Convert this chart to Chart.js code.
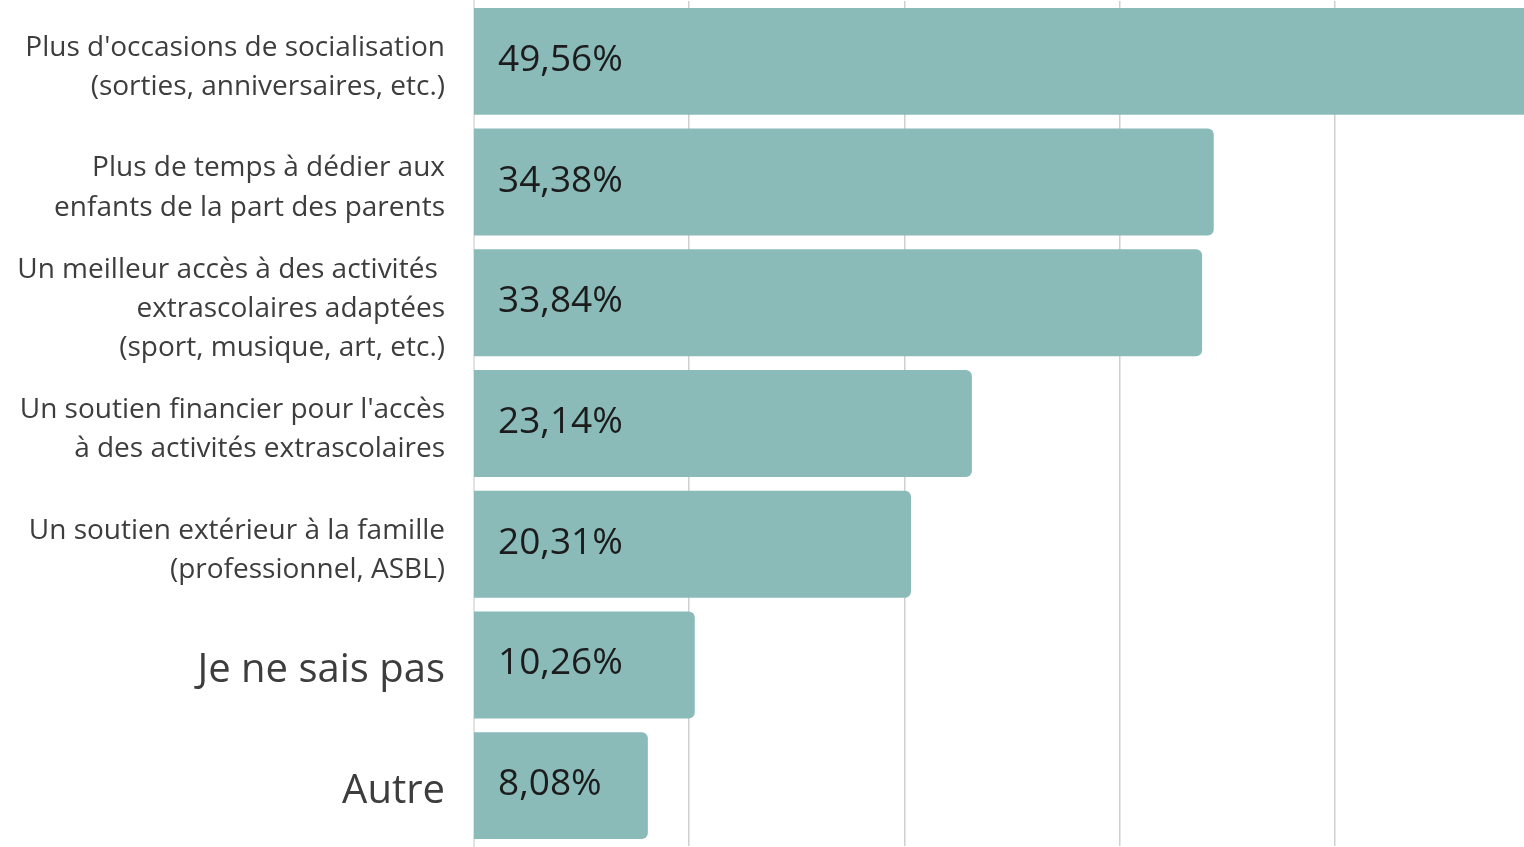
<!DOCTYPE html>
<html>
<head>
<meta charset="utf-8">
<script src="https://cdn.jsdelivr.net/npm/chart.js@4"></script>
<style>
  html, body { margin: 0; padding: 0; background: #fff; overflow: hidden; }
  #wrap { width: 1524px; height: 847px; }
</style>
</head>
<body>
<div id="wrap"><canvas id="besoins"></canvas></div>
<script>
const categories = [
  ["Plus d'occasions de socialisation", "(sorties, anniversaires, etc.)"],
  ["Plus de temps à dédier aux", "enfants de la part des parents"],
  ["Un meilleur accès à des activités ", "extrascolaires adaptées", "(sport, musique, art, etc.)"],
  ["Un soutien financier pour l'accès", "à des activités extrascolaires"],
  ["Un soutien extérieur à la famille", "(professionnel, ASBL)"],
  "Je ne sais pas",
  "Autre",
];
const values = [49.56, 34.38, 33.84, 23.14, 20.31, 10.26, 8.08];
const gridSteps = [10, 20, 30, 40];

const valueLabels = {
  id: "valueLabels",
  afterDatasetsDraw(chart) {
    const ctx = chart.ctx;
    const meta = chart.getDatasetMeta(0);
    ctx.save();
    ctx.font = "37px 'Open Sans'";
    ctx.fillStyle = "#1c1c1c";
    ctx.textAlign = "left";
    ctx.textBaseline = "middle";
    meta.data.forEach((bar, i) => {
      const txt = values[i].toFixed(2).replace(".", ",") + "%";
      ctx.fillText(txt, bar.base + 24, bar.y - 1);
    });
    ctx.restore();
  },
};

const besoinsCtx = document.getElementById("besoins").getContext("2d");
const besoinsChart = new Chart(besoinsCtx, {
  type: "bar",
  plugins: [valueLabels],
  options: {
    indexAxis: "y",
    responsive: true,
    maintainAspectRatio: false,
    animation: false,
    layout: { padding: { top: 1, bottom: 1, left: 0, right: 0 } },
    plugins: {
      legend: { display: false },
      tooltip: { enabled: false },
    },
    scales: {
      x: {
        min: 0,
        max: 48.8,
        afterBuildTicks: (scale) => {
          scale.ticks = gridSteps.map((v) => ({ value: v }));
        },
        afterFit: (scale) => {
          scale.height = 0;
          scale.paddingLeft = 0;
          scale.paddingRight = 0;
        },
        ticks: { display: false },
        grid: { color: "#cfcfcf", lineWidth: 1.5, drawTicks: false },
        border: { display: false },
      },
      y: {
        afterFit: (scale) => {
          scale.width = 474;
          scale.paddingTop = 0;
          scale.paddingBottom = 0;
        },
        grid: { display: false },
        border: { display: true, color: "#e2e2e2", width: 2 },
        ticks: {
          padding: 21,
          labelOffset: 6,
          color: "#3d3d3d",
          font: (c) => ({
            family: "'Open Sans'",
            size: c.index >= 5 ? 40 : 28,
            lineHeight: 1.4,
          }),
        },
      },
    },
  },
  data: {
    labels: categories,
    datasets: [
      {
        label: "Réponses",
        data: values,
        backgroundColor: "#8abbb9",
        borderRadius: 6,
        borderSkipped: "start",
        categoryPercentage: 1,
        barPercentage: 0.886,
      },
    ],
  },
});
</script>
</body>
</html>
